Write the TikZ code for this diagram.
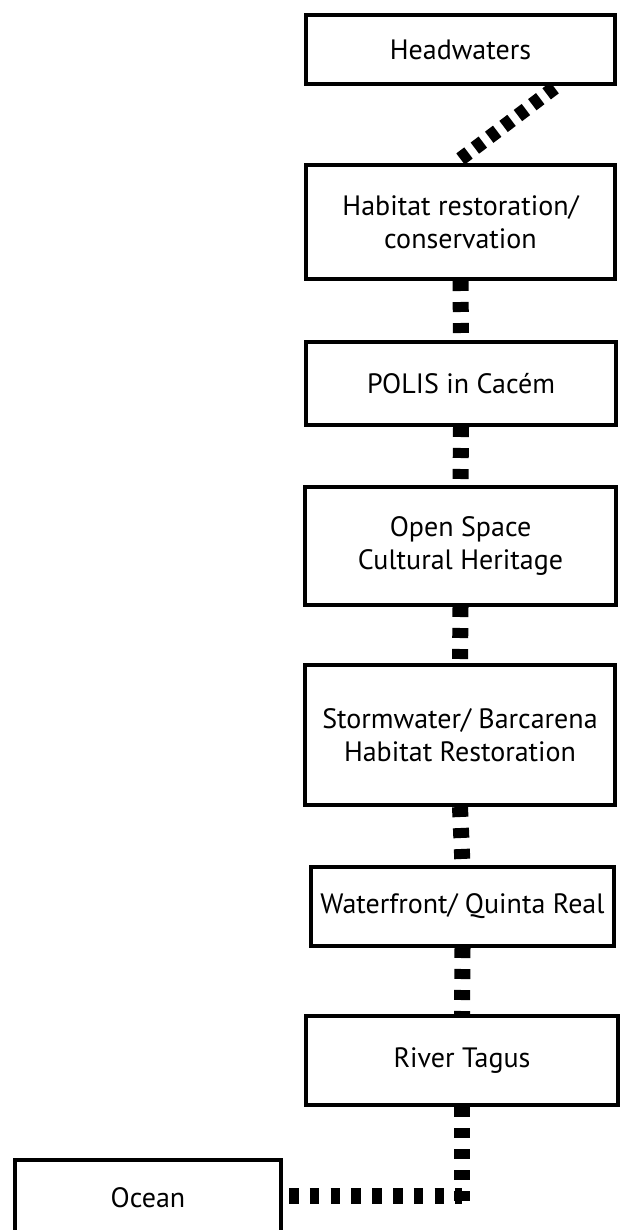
\documentclass[tikz,border=0pt]{standalone}
\usepackage{fontspec}
\setmainfont{PT Sans}
\begin{document}
\begin{tikzpicture}[x=1pt,y=-1pt,
  box/.style={draw=black,line width=4pt,rectangle,align=center,inner sep=0pt,
    font=\fontsize{28}{33}\selectfont},
  link/.style={draw=black,line width=16pt,dash pattern=on 10pt off 11pt}]
\useasboundingbox (0,0) rectangle (620,1230);
\node[box,minimum width=309pt,minimum height=69pt] (head) at (460.5,49.5) {Headwaters};
\node[box,minimum width=309pt,minimum height=114pt] (hab) at (460.5,222) {Habitat restoration/\\conservation};
\node[box,minimum width=310pt,minimum height=83pt] (polis) at (461,383.5) {POLIS in Cacém};
\node[box,minimum width=311pt,minimum height=118pt] (open) at (460.5,546) {Open Space\\Cultural Heritage};
\node[box,minimum width=310pt,minimum height=140pt] (storm) at (460,735) {Stormwater/ Barcarena\\Habitat Restoration};
\node[box,minimum width=303pt,minimum height=79pt] (water) at (462.5,906.5) {Waterfront/ Quinta Real};
\node[box,minimum width=312pt,minimum height=89pt] (tagus) at (462,1060.5) {River Tagus};
\node[box,minimum width=266pt,minimum height=76pt] (ocean) at (148,1198) {Ocean};
\coordinate (corner) at (462,1196);
\coordinate (cornerend) at (462,1204);
\draw[draw=black,line width=14pt,dash pattern=on 10pt off 8pt] ([yshift=4pt]hab.north) -- ([xshift=-60pt]head.south east);
\draw[link] (hab.south) -- (polis.north);
\draw[link] (polis.south) -- (open.north);
\draw[link] (open.south) -- (storm.north);
\draw[link] (storm.south) -- (water.north);
\draw[link] (water.south) -- (tagus.north);
\draw[link] (tagus.south) -- (cornerend);
\draw[draw=black,line width=16pt,dash pattern=on 9.5pt off 11.3pt,dash phase=14.8pt] (ocean.east |- corner) -- (corner);
\end{tikzpicture}
\end{document}
